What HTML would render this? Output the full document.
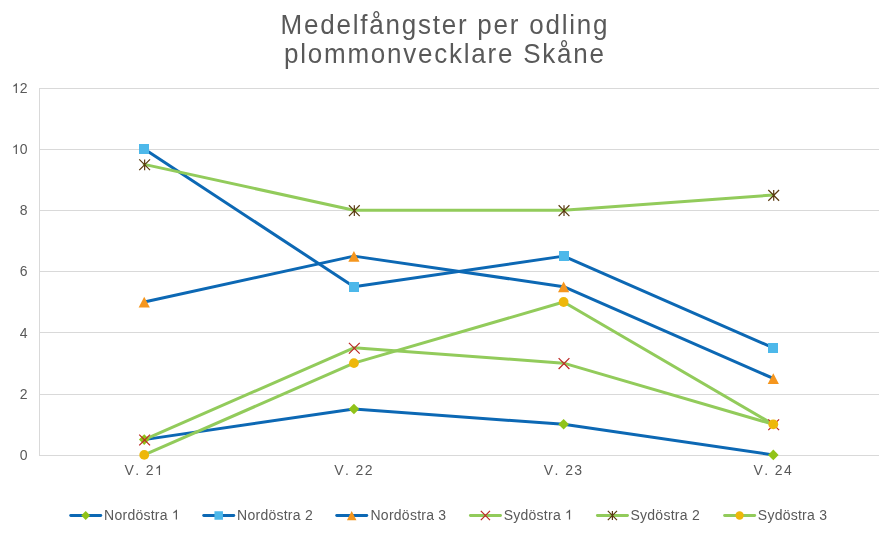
<!DOCTYPE html>
<html><head><meta charset="utf-8"><style>
html,body{margin:0;padding:0;background:#fff;width:884px;height:542px;overflow:hidden}
svg{display:block;will-change:transform}
text{font-family:"Liberation Sans",sans-serif}
.ax{font-size:14px;fill:#595959}
.ti{font-size:26px;fill:#595959;letter-spacing:1.77px}
.lg{font-size:14px;fill:#595959;letter-spacing:0.25px;font-kerning:none}
.xl{letter-spacing:1.4px;font-kerning:none}
.one{fill:transparent}
</style></head><body>
<svg width="884" height="542" viewBox="0 0 884 542">
<rect x="39" y="455" width="840" height="1" fill="#D9D9D9"/>
<rect x="39" y="394" width="840" height="1" fill="#D9D9D9"/>
<rect x="39" y="332" width="840" height="1" fill="#D9D9D9"/>
<rect x="39" y="271" width="840" height="1" fill="#D9D9D9"/>
<rect x="39" y="210" width="840" height="1" fill="#D9D9D9"/>
<rect x="39" y="149" width="840" height="1" fill="#D9D9D9"/>
<rect x="39" y="88" width="840" height="1" fill="#D9D9D9"/>
<rect x="39" y="88" width="1" height="368" fill="#D9D9D9"/>
<text x="27.5" y="459.9" text-anchor="end" class="ax">0</text>
<text x="27.5" y="398.74" text-anchor="end" class="ax">2</text>
<text x="27.5" y="337.58" text-anchor="end" class="ax">4</text>
<text x="27.5" y="276.41999999999996" text-anchor="end" class="ax">6</text>
<text x="27.5" y="215.26" text-anchor="end" class="ax">8</text>
<text x="27.5" y="154.10000000000002" text-anchor="end" class="ax"><tspan class="one">1</tspan>0</text>
<text x="27.5" y="92.94" text-anchor="end" class="ax"><tspan class="one">1</tspan>2</text>
<text x="144.335" y="475" text-anchor="middle" class="ax xl">V. 2<tspan class="one">1</tspan></text>
<text x="354.025" y="475" text-anchor="middle" class="ax xl">V. 22</text>
<text x="563.715" y="475" text-anchor="middle" class="ax xl">V. 23</text>
<text x="773.405" y="475" text-anchor="middle" class="ax xl">V. 24</text>
<polyline points="144.24,439.61 353.92,409.03 563.62,424.32 773.30,454.90" fill="none" stroke="#0C68B4" stroke-width="3" stroke-linejoin="round" stroke-linecap="round"/>
<polyline points="144.24,149.10 353.92,286.71 563.62,256.13 773.30,347.87" fill="none" stroke="#0C68B4" stroke-width="3" stroke-linejoin="round" stroke-linecap="round"/>
<polyline points="144.24,302.00 353.92,256.13 563.62,286.71 773.30,378.45" fill="none" stroke="#0C68B4" stroke-width="3" stroke-linejoin="round" stroke-linecap="round"/>
<polyline points="144.24,439.61 353.92,347.87 563.62,363.16 773.30,424.32" fill="none" stroke="#92CB5B" stroke-width="3" stroke-linejoin="round" stroke-linecap="round"/>
<polyline points="144.24,164.39 353.92,210.26 563.62,210.26 773.30,194.97" fill="none" stroke="#92CB5B" stroke-width="3" stroke-linejoin="round" stroke-linecap="round"/>
<polyline points="144.24,454.90 353.92,363.16 563.62,302.00 773.30,424.32" fill="none" stroke="#92CB5B" stroke-width="3" stroke-linejoin="round" stroke-linecap="round"/>
<path d="M144.24 434.31L149.54 439.61L144.24 444.91L138.94 439.61Z" fill="#91C319"/>
<path d="M353.92 403.73L359.22 409.03L353.92 414.33L348.62 409.03Z" fill="#91C319"/>
<path d="M563.62 419.02L568.91 424.32L563.62 429.62L558.32 424.32Z" fill="#91C319"/>
<path d="M773.30 449.60L778.60 454.90L773.30 460.20L768.00 454.90Z" fill="#91C319"/>
<rect x="139" y="144" width="10" height="10" fill="#4DB8EA"/>
<rect x="349" y="282" width="10" height="10" fill="#4DB8EA"/>
<rect x="559" y="251" width="10" height="10" fill="#4DB8EA"/>
<rect x="768" y="343" width="10" height="10" fill="#4DB8EA"/>
<path d="M144.24 296.80L149.84 307.60L138.64 307.60Z" fill="#F5961E"/>
<path d="M353.92 250.93L359.52 261.73L348.32 261.73Z" fill="#F5961E"/>
<path d="M563.62 281.51L569.22 292.31L558.01 292.31Z" fill="#F5961E"/>
<path d="M773.30 373.25L778.90 384.05L767.70 384.05Z" fill="#F5961E"/>
<path d="M139.24 434.61L150.04 445.41M150.04 434.61L139.24 445.41" stroke="#BC2A27" stroke-width="1.25"/>
<path d="M348.92 342.87L359.72 353.67M359.72 342.87L348.92 353.67" stroke="#BC2A27" stroke-width="1.25"/>
<path d="M558.62 358.16L569.41 368.96M569.41 358.16L558.62 368.96" stroke="#BC2A27" stroke-width="1.25"/>
<path d="M768.30 419.32L779.10 430.12M779.10 419.32L768.30 430.12" stroke="#BC2A27" stroke-width="1.25"/>
<path d="M139.24 159.39L150.04 170.19M150.04 159.39L139.24 170.19M144.64 159.39L144.64 170.19" stroke="#5A3A10" stroke-width="1.2"/>
<path d="M348.92 205.26L359.72 216.06M359.72 205.26L348.92 216.06M354.32 205.26L354.32 216.06" stroke="#5A3A10" stroke-width="1.2"/>
<path d="M558.62 205.26L569.41 216.06M569.41 205.26L558.62 216.06M564.01 205.26L564.01 216.06" stroke="#5A3A10" stroke-width="1.2"/>
<path d="M768.30 189.97L779.10 200.77M779.10 189.97L768.30 200.77M773.70 189.97L773.70 200.77" stroke="#5A3A10" stroke-width="1.2"/>
<circle cx="144.24" cy="454.90" r="4.90" fill="#EEB70A"/>
<circle cx="353.92" cy="363.16" r="4.90" fill="#EEB70A"/>
<circle cx="563.62" cy="302.00" r="4.90" fill="#EEB70A"/>
<circle cx="773.30" cy="424.32" r="4.90" fill="#EEB70A"/>
<text transform="translate(0 34) scale(1 1.04)" x="444.9" y="0" text-anchor="middle" class="ti">Medelfångster per odling</text>
<text transform="translate(0 63) scale(1 1.04)" x="444.9" y="0" text-anchor="middle" class="ti">plommonvecklare Skåne</text>
<line x1="70.7" y1="515.5" x2="100.8" y2="515.5" stroke="#0C68B4" stroke-width="2.9" stroke-linecap="round"/>
<path d="M85.70 511.00L90.20 515.50L85.70 520.00L81.20 515.50Z" fill="#91C319"/>
<text x="104.1" y="519.5" class="lg">Nordöstra <tspan class="one">1</tspan></text>
<line x1="203.7" y1="515.5" x2="233.8" y2="515.5" stroke="#0C68B4" stroke-width="2.9" stroke-linecap="round"/>
<rect x="214.45" y="511.25" width="8.50" height="8.50" fill="#4DB8EA"/>
<text x="237.1" y="519.5" class="lg">Nordöstra 2</text>
<line x1="336.7" y1="515.5" x2="366.8" y2="515.5" stroke="#0C68B4" stroke-width="2.9" stroke-linecap="round"/>
<path d="M351.70 511.08L356.46 520.26L346.94 520.26Z" fill="#F5961E"/>
<text x="370.5" y="519.5" class="lg">Nordöstra 3</text>
<line x1="470.4" y1="515.5" x2="500.5" y2="515.5" stroke="#92CB5B" stroke-width="2.9" stroke-linecap="round"/>
<path d="M480.81 510.91L489.99 520.09M489.99 510.91L480.81 520.09" stroke="#BC2A27" stroke-width="1.25"/>
<text x="503.7" y="519.5" class="lg">Sydöstra <tspan class="one">1</tspan></text>
<line x1="597.4000000000001" y1="515.5" x2="627.5" y2="515.5" stroke="#92CB5B" stroke-width="2.9" stroke-linecap="round"/>
<path d="M607.81 510.91L616.99 520.09M616.99 510.91L607.81 520.09M612.40 510.91L612.40 520.09" stroke="#5A3A10" stroke-width="1.2"/>
<text x="630.5" y="519.5" class="lg">Sydöstra 2</text>
<line x1="724.6" y1="515.5" x2="754.6999999999999" y2="515.5" stroke="#92CB5B" stroke-width="2.9" stroke-linecap="round"/>
<circle cx="739.60" cy="515.50" r="4.17" fill="#EEB70A"/>
<text x="757.8" y="519.5" class="lg">Sydöstra 3</text>
<path transform="translate(11.91 154.10) scale(0.006836 -0.006836)" d="M736 0H556V1103Q491 1043 385 984Q280 924 196 894V1061Q347 1130 460 1227Q573 1324 620 1409H736Z" fill="#595959"/>
<path transform="translate(11.91 92.94) scale(0.006836 -0.006836)" d="M736 0H556V1103Q491 1043 385 984Q280 924 196 894V1061Q347 1130 460 1227Q573 1324 620 1409H736Z" fill="#595959"/>
<path transform="translate(155.00 475.00) scale(0.006836 -0.006836)" d="M736 0H556V1103Q491 1043 385 984Q280 924 196 894V1061Q347 1130 460 1227Q573 1324 620 1409H736Z" fill="#595959"/>
<path transform="translate(171.96 519.50) scale(0.006836 -0.006836)" d="M736 0H556V1103Q491 1043 385 984Q280 924 196 894V1061Q347 1130 460 1227Q573 1324 620 1409H736Z" fill="#595959"/>
<path transform="translate(565.09 519.50) scale(0.006836 -0.006836)" d="M736 0H556V1103Q491 1043 385 984Q280 924 196 894V1061Q347 1130 460 1227Q573 1324 620 1409H736Z" fill="#595959"/>
</svg>
</body></html>
